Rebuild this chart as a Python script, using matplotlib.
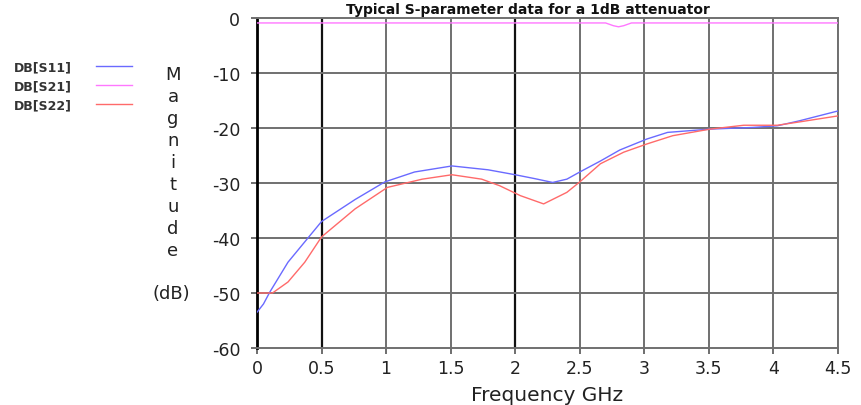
import matplotlib
matplotlib.use("Agg")
import matplotlib.pyplot as plt

# Data
s11_freq = [0, 0.05, 0.1, 0.24, 0.37, 0.5, 0.76, 0.99, 1.22, 1.51, 1.79, 2.0,
            2.15, 2.29, 2.4, 2.5, 2.66, 2.81, 3.02, 3.18, 3.51, 3.84, 4.03,
            4.2, 4.5]
s11_db = [-53.5, -52, -49.8, -44.4, -40.7, -37, -33, -29.8, -28, -26.9, -27.6,
          -28.5, -29.2, -29.9, -29.3, -28, -26, -24, -22, -20.8, -20.2, -19.9,
          -19.6, -18.7, -16.9]

s21_freq = [0, 2.7, 2.76, 2.8, 2.84, 2.9, 4.5]
s21_db = [-0.9, -0.9, -1.4, -1.6, -1.4, -0.9, -0.9]

s22_freq = [0, 0.12, 0.24, 0.37, 0.5, 0.76, 1.01, 1.28, 1.51, 1.74, 1.88, 2.04,
            2.22, 2.4, 2.5, 2.66, 2.84, 3.02, 3.22, 3.51, 3.77, 4.03, 4.2, 4.5]
s22_db = [-50, -50, -48, -44.4, -39.8, -34.7, -30.8, -29.3, -28.5, -29.3,
          -30.5, -32.3, -33.8, -31.7, -29.8, -26.5, -24.4, -22.9, -21.4, -20.2,
          -19.5, -19.5, -18.9, -17.8]

x_ticks = [0, 0.5, 1, 1.5, 2, 2.5, 3, 3.5, 4, 4.5]
x_labels = ['0', '0.5', '1', '1.5', '2', '2.5', '3', '3.5', '4', '4.5']
y_ticks = [0, -10, -20, -30, -40, -50, -60]

plt.rcParams['font.family'] = ['DejaVu Sans']
plt.rcParams['axes.unicode_minus'] = False

fig = plt.figure(figsize=(8.62, 4.06), dpi=100)
ax = fig.add_axes([257 / 862, 1 - 349 / 406, (838 - 257) / 862, (349 - 19) / 406])

# Grid: most lines gray, a few drawn black as in the original
dark_lines = [0.5, 2.0]
for xv in x_ticks[1:]:
    if xv in dark_lines:
        ax.axvline(xv, color='#111111', lw=1.6, zorder=1)
    else:
        ax.axvline(xv, color='#707070', lw=1.4, zorder=1)
for yv in y_ticks[1:-1]:
    ax.axhline(yv, color='#707070', lw=1.4, zorder=1)

l11, = ax.plot(s11_freq, s11_db, color='#6a6aff', lw=1.0, zorder=3)
l21, = ax.plot(s21_freq, s21_db, color='#ff77ff', lw=1.0, zorder=3)
l22, = ax.plot(s22_freq, s22_db, color='#ff6a6a', lw=1.0, zorder=3)

ax.set_xlim(0, 4.5)
ax.set_ylim(-60, 0)
ax.set_xticks(x_ticks)
ax.set_xticklabels(x_labels)
ax.set_yticks(y_ticks)
ax.tick_params(axis='both', labelsize=12.5, length=4, width=1.2,
               color='#555555', labelcolor='#222222')
ax.tick_params(axis='x', pad=4)
ax.tick_params(axis='y', pad=8)

ax.spines['left'].set_color('black')
ax.spines['left'].set_linewidth(2.0)
for side in ['top', 'right', 'bottom']:
    ax.spines[side].set_color('#707070')
    ax.spines[side].set_linewidth(1.4)

ax.set_xlabel('Frequency GHz', fontsize=14.5, color='#222222', labelpad=6)

# Stacked vertical y label
for i, ch in enumerate('Magnitude'):
    fig.text(173 / 862, 1 - (75 + i * 22) / 406, ch, fontsize=13,
             ha='center', va='center', color='#222222')
fig.text(171 / 862, 1 - 294 / 406, '(dB)', fontsize=13,
         ha='center', va='center', color='#222222')

fig.text(528 / 862, 1 - 10 / 406, 'Typical S-parameter data for a 1dB attenuator',
         fontsize=10, fontweight='bold',
         ha='center', va='center', color='#111111')

fig.legend([l11, l21, l22], ['DB[S11]', 'DB[S21]', 'DB[S22]'],
           loc='upper left', bbox_to_anchor=(3 / 862, 1 - 50 / 406),
           frameon=False, markerfirst=False, handlelength=2.9,
           handletextpad=1.9, labelspacing=0.5, labelcolor='#333333',
           prop={'weight': 'bold', 'size': 9})

plt.savefig('out.png', dpi=100)
